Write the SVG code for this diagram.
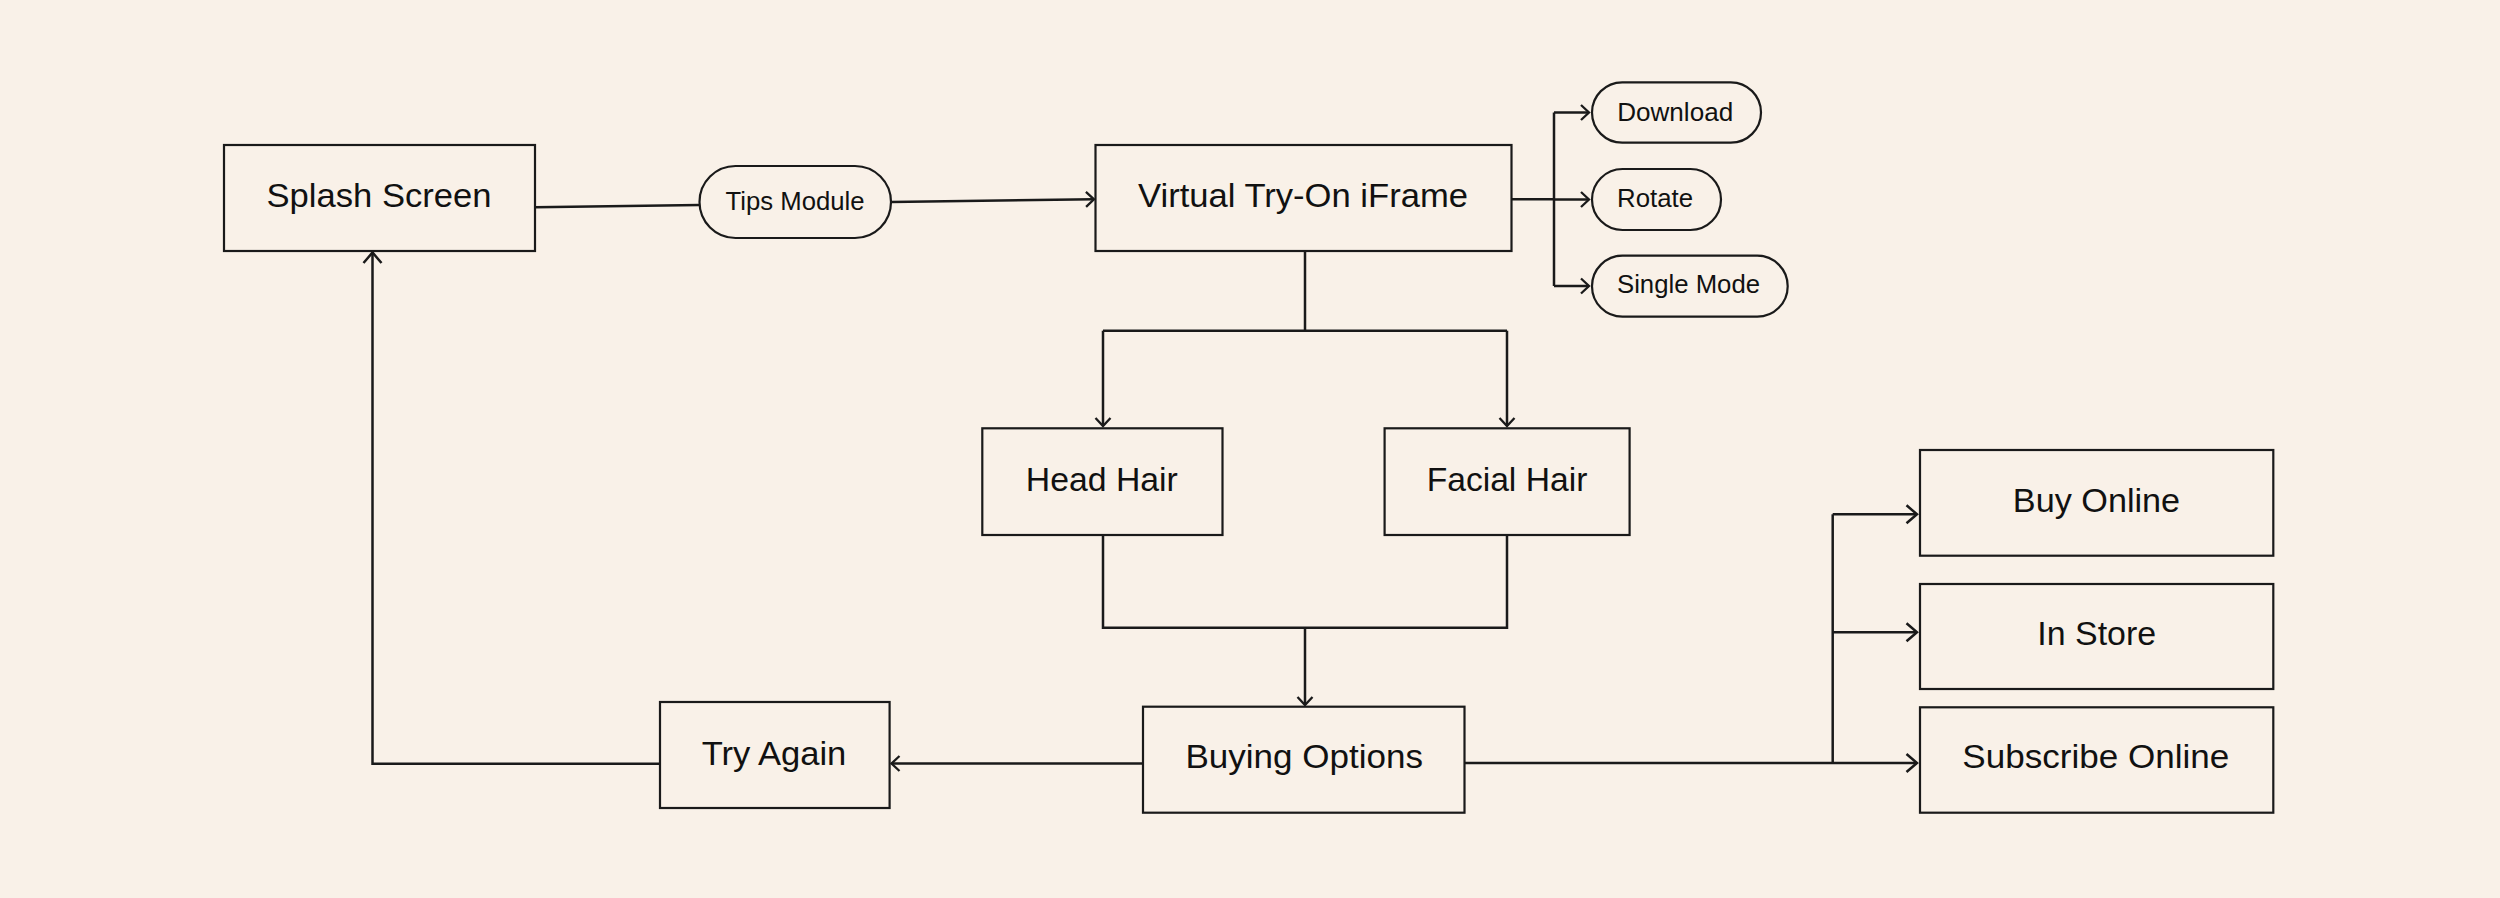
<svg xmlns="http://www.w3.org/2000/svg" width="2500" height="898" viewBox="0 0 2500 898">
<style>
.bg{fill:#f9f1e8}
.box{fill:#f9f1e8;stroke:#1a1a1a;stroke-width:2.2}
.ln{fill:none;stroke:#1a1a1a;stroke-width:2.5}
.t{font-family:"Liberation Sans",Arial,sans-serif;font-size:34px;fill:#111;text-anchor:middle}
.s{font-family:"Liberation Sans",Arial,sans-serif;font-size:26px;fill:#111;text-anchor:middle}
</style>
<defs>
<marker id="ah" markerUnits="userSpaceOnUse" markerWidth="24" markerHeight="24" refX="0" refY="0" viewBox="-12 -12 24 24" orient="auto" overflow="visible">
<path d="M-8,-7.5 L0,0 L-8,7.5" fill="none" stroke="#1a1a1a" stroke-width="2.3"/>
</marker>
<marker id="ahl" markerUnits="userSpaceOnUse" markerWidth="24" markerHeight="24" refX="0" refY="0" viewBox="-12 -12 24 24" orient="auto" overflow="visible">
<path d="M-10.5,-9 L0,0 L-10.5,9" fill="none" stroke="#1a1a1a" stroke-width="2.5"/>
</marker>
</defs>
<rect class="bg" x="0" y="0" width="2500" height="898"/>
<g id="connectors">
<path class="ln" d="M535,207.3 L699.5,205"/>
<path class="ln" d="M891,202 L1094,199.3" marker-end="url(#ah)"/>
<path class="ln" d="M1511,199.3 L1554,199.3"/>
<path class="ln" d="M1554,112.5 L1554,286"/>
<path class="ln" d="M1554,112.5 L1589,112.5" marker-end="url(#ah)"/>
<path class="ln" d="M1554,199.5 L1589,199.5" marker-end="url(#ah)"/>
<path class="ln" d="M1554,286 L1589,286" marker-end="url(#ah)"/>
<path class="ln" d="M1305,251 L1305,330.7"/>
<path class="ln" d="M1103,330.7 L1507,330.7"/>
<path class="ln" d="M1103,330.7 L1103,426" marker-end="url(#ah)"/>
<path class="ln" d="M1507,330.7 L1507,426" marker-end="url(#ah)"/>
<path class="ln" d="M1103,535 L1103,627.7 L1507,627.7 L1507,535"/>
<path class="ln" d="M1305,627.7 L1305,705" marker-end="url(#ah)"/>
<path class="ln" d="M1143,763.5 L891.5,763.5" marker-end="url(#ah)"/>
<path class="ln" d="M660,763.8 L372.5,763.8 L372.5,252.5" marker-end="url(#ahl)"/>
<path class="ln" d="M1464.5,763 L1917,763" marker-end="url(#ahl)"/>
<path class="ln" d="M1832.7,763 L1832.7,514.3"/>
<path class="ln" d="M1832.7,514.3 L1917,514.3" marker-end="url(#ahl)"/>
<path class="ln" d="M1832.7,632.3 L1917,632.3" marker-end="url(#ahl)"/>
</g>
<g id="splash-screen">
<rect class="box" x="224" y="145" width="311" height="106"/>
<text class="t" x="379" y="207.3" textLength="225" lengthAdjust="spacingAndGlyphs">Splash Screen</text>
</g>
<g id="tips-module">
<rect class="box" x="699.5" y="166" width="191.5" height="72" rx="36"/>
<text class="s" x="795" y="210" textLength="139" lengthAdjust="spacingAndGlyphs">Tips Module</text>
</g>
<g id="virtual-try-on">
<rect class="box" x="1095.5" y="145" width="416" height="106"/>
<text class="t" x="1303" y="206.7" textLength="330" lengthAdjust="spacingAndGlyphs">Virtual Try-On iFrame</text>
</g>
<g id="download">
<rect class="box" x="1592" y="82.3" width="169" height="60.4" rx="30.2"/>
<text class="s" x="1675.2" y="120.7" textLength="116" lengthAdjust="spacingAndGlyphs">Download</text>
</g>
<g id="rotate">
<rect class="box" x="1592" y="169" width="129" height="61" rx="30.5"/>
<text class="s" x="1655" y="206.7" textLength="76" lengthAdjust="spacingAndGlyphs">Rotate</text>
</g>
<g id="single-mode">
<rect class="box" x="1592" y="255.7" width="195.7" height="61" rx="30.5"/>
<text class="s" x="1688.5" y="293.3" textLength="143" lengthAdjust="spacingAndGlyphs">Single Mode</text>
</g>
<g id="head-hair">
<rect class="box" x="982.3" y="428.3" width="240.2" height="106.7"/>
<text class="t" x="1101.8" y="490.7" textLength="152" lengthAdjust="spacingAndGlyphs">Head Hair</text>
</g>
<g id="facial-hair">
<rect class="box" x="1384.6" y="428.3" width="245" height="106.7"/>
<text class="t" x="1507" y="490.7" textLength="160.7" lengthAdjust="spacingAndGlyphs">Facial Hair</text>
</g>
<g id="buying-options">
<rect class="box" x="1143" y="706.7" width="321.5" height="106"/>
<text class="t" x="1304.2" y="768.3" textLength="237.6" lengthAdjust="spacingAndGlyphs">Buying Options</text>
</g>
<g id="try-again">
<rect class="box" x="660" y="702" width="229.6" height="106"/>
<text class="t" x="774" y="764.6" textLength="144.7" lengthAdjust="spacingAndGlyphs">Try Again</text>
</g>
<g id="buy-online">
<rect class="box" x="1920" y="450" width="353.3" height="105.7"/>
<text class="t" x="2096.5" y="511.7" textLength="167.3" lengthAdjust="spacingAndGlyphs">Buy Online</text>
</g>
<g id="in-store">
<rect class="box" x="1920" y="584" width="353.3" height="105"/>
<text class="t" x="2096.7" y="645" textLength="118.7" lengthAdjust="spacingAndGlyphs">In Store</text>
</g>
<g id="subscribe-online">
<rect class="box" x="1920" y="707.3" width="353.3" height="105.4"/>
<text class="t" x="2095.8" y="768.3" textLength="267" lengthAdjust="spacingAndGlyphs">Subscribe Online</text>
</g>
</svg>
